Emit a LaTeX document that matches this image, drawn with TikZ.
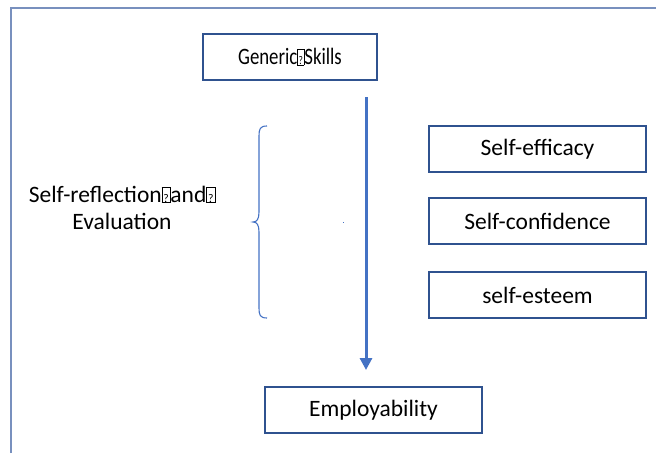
\documentclass[tikz,border=0pt]{standalone}
\usepackage{fontspec}
\setmainfont{Carlito}
\usetikzlibrary{arrows.meta}
\definecolor{boxline}{HTML}{2F528F}
\definecolor{accent}{HTML}{4472C4}
\definecolor{frameline}{HTML}{7890BE}
\newcommand\qbx{{\setlength\fboxsep{0pt}\setlength\fboxrule{0.6pt}\fbox{\makebox[0.32em][c]{\vphantom{I}\scalebox{0.5}{?}}}}}
\tikzset{
  box/.style={draw=boxline, line width=1.3pt, minimum width=217pt, minimum height=46pt, inner sep=0pt, font=\fontsize{23.5}{28}\selectfont},
  flow/.style={draw=accent, line width=3pt, -{Triangle[width=12pt,length=12pt]}},
  bracepath/.style={draw=accent, line width=1.1pt},
  framepath/.style={draw=frameline, line width=2pt}
}
\begin{document}
\begin{tikzpicture}[x=1pt,y=-1pt]
\useasboundingbox (0,0) rectangle (656,453);
% frame
\coordinate (fbl) at (11,453);
\coordinate (ftl) at (11,8);
\coordinate (ftr) at (656,8);
\draw[framepath] (fbl) -- (ftl) -- (ftr);
% boxes
\node[box, minimum width=174pt] (gen) at (290,57) {\scalebox{0.8}[1]{Generic\qbx Skills}};
\node[box] (eff) at (537.5,149) {Self-efficacy};
\node[box] (conf) at (537.5,221) {Self-confidence};
\node[box] (est) at (537.5,295) {self-esteem};
\node[box] (emp) at (373.5,410) {Employability};
% arrow
\coordinate (as) at (366,97);
\coordinate (ae) at (366,370);
\draw[flow] (as) -- (ae);
% brace
\coordinate (bt) at (267,126);
\coordinate (bm) at (253,222);
\coordinate (bb) at (267,318);
\draw[bracepath] (bt) .. controls (260,126) and (259,129) .. (259,136)
  -- (259,212) .. controls (259,219) and (257,222) .. (bm)
  .. controls (257,222) and (259,225) .. (259,232)
  -- (259,308) .. controls (259,315) and (260,318) .. (bb);
% label
\node[align=center, inner sep=0pt, font=\fontsize{23.5}{27.5}\selectfont] (lab) at (122,208) {Self-reflection\qbx and\qbx\\Evaluation};
% tiny mark
\fill[accent] (342.5,221.5) rectangle (343.5,223);
\end{tikzpicture}
\end{document}
